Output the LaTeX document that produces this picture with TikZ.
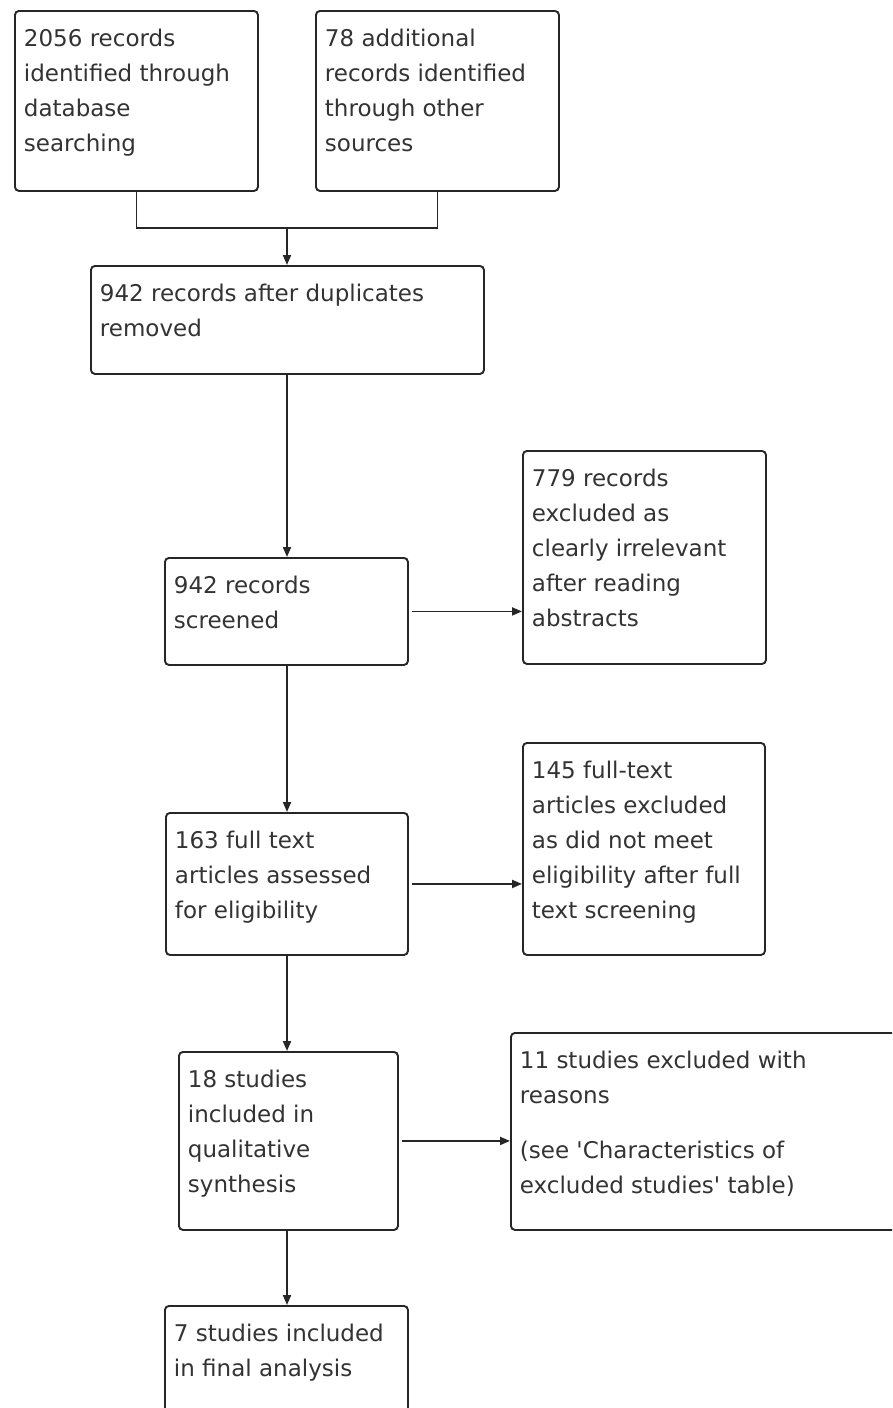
\documentclass[tikz,border=0pt]{standalone}
\usepackage{fontspec}
\setmainfont{DejaVu Sans}[Ligatures=TeXOff]
\usetikzlibrary{arrows.meta}
\tikzset{
  box/.style={draw=black!85, line width=1.9pt, rounded corners=4pt, anchor=north west,
    inner xsep=9pt, inner ysep=0pt, text=black!80, font=\fontsize{23}{35}\selectfont},
  arr/.style={draw=black!85, line width=1.9pt, -{Triangle[length=10pt,width=8pt]}},
  ln/.style={draw=black!85, line width=1.9pt},
}
\newcommand{\bt}[3]{\parbox[c][#2][t]{#1}{\raggedright\rule{0pt}{36pt}#3}}
\begin{document}
\begin{tikzpicture}[x=1pt,y=-1pt]
\useasboundingbox (0,0) rectangle (892,1408);
\clip (0,0) rectangle (892,1408);
\fill[white] (0,0) rectangle (892,1408);

\node[box] (b1) at (14,10) {\bt{225pt}{180pt}{2056 records\\identified through\\database\\searching}};
\node[box] (b2) at (315,10) {\bt{225pt}{180pt}{78 additional\\records identified\\through other\\sources}};
\node[box] (b3) at (90,265) {\bt{375pt}{108pt}{942 records after duplicates\\removed}};
\node[box] (b4) at (164,557) {\bt{225pt}{107pt}{942 records\\screened}};
\node[box] (b5) at (522,450) {\bt{225pt}{213pt}{779 records\\excluded as\\clearly irrelevant\\after reading\\abstracts}};
\node[box] (b6) at (165,812) {\bt{224pt}{142pt}{163 full text\\articles assessed\\for eligibility}};
\node[box] (b7) at (522,742) {\bt{224pt}{212pt}{145 full-text\\articles excluded\\as did not meet\\eligibility after full\\text screening}};
\node[box] (b8) at (178,1051) {\bt{201pt}{178pt}{18 studies\\included in\\qualitative\\synthesis}};
\node[box] (b9) at (510,1032) {\bt{402pt}{197pt}{11 studies excluded with\\reasons\\[20pt](see 'Characteristics of\\excluded studies' table)}};
\node[box] (b10) at (164,1305) {\bt{225pt}{140pt}{7 studies included\\in final analysis}};

\coordinate (m) at (287,228);
\draw[ln] (b1.south) |- (m) -| (b2.south);
\draw[arr] (m) -- (m |- b3.north);
\draw[arr] (m |- b3.south) -- (m |- b4.north);
\draw[arr, shorten <=3pt] (b4.east) -- (b4.east -| b5.west);
\draw[arr] (m |- b4.south) -- (m |- b6.north);
\draw[arr, shorten <=3pt] (b6.east) -- (b6.east -| b7.west);
\draw[arr] (m |- b6.south) -- (m |- b8.north);
\draw[arr, shorten <=3pt] (b8.east) -- (b8.east -| b9.west);
\draw[arr] (m |- b8.south) -- (m |- b10.north);
\end{tikzpicture}
\end{document}
